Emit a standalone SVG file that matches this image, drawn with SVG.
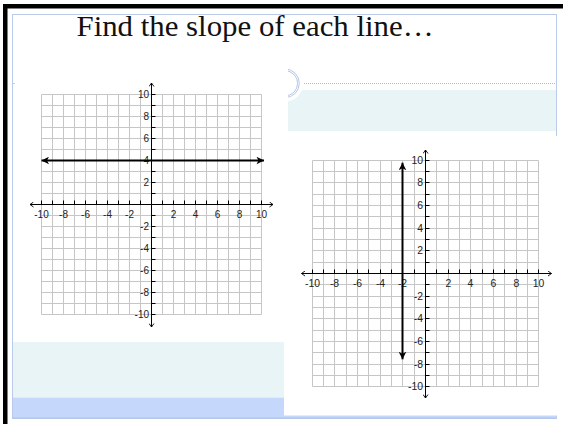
<svg xmlns="http://www.w3.org/2000/svg" width="563" height="424" viewBox="0 0 563 424">
<style>
.grid{fill:none;stroke:#c6c6c6;stroke-width:1}
.ax{fill:none;stroke:#000;stroke-width:1}
.tk{fill:none;stroke:#000;stroke-width:1}
.lx{font-family:"Liberation Sans",Arial,sans-serif;font-size:10px;fill:#222;text-anchor:middle}
.ly{font-family:"Liberation Sans",Arial,sans-serif;font-size:10px;fill:#222;text-anchor:end}
.big .lx,.big .ly{font-size:10.4px}
.bold{fill:none;stroke:#000;stroke-width:2}
.img{fill:#fff}
</style>
<defs>
<marker id="aa" viewBox="-5 -3 6 6" refX="0" refY="0" markerWidth="6" markerHeight="6" markerUnits="userSpaceOnUse" orient="auto-start-reverse">
<path d="M-3.5,-2.5 L0,0 L-3.5,2.5" fill="none" stroke="#000" stroke-width="0.9"/>
</marker>
<marker id="ah" viewBox="-8 -4 9 8" refX="0" refY="0" markerWidth="9" markerHeight="8" markerUnits="userSpaceOnUse" orient="auto-start-reverse">
<path d="M0,0 L-7.5,-3.8 L-5.5,0 L-7.5,3.8 Z" fill="#000"/>
</marker>
</defs>
<rect x="0" y="0" width="563" height="424" fill="#fff"/>
<g id="frame">
<rect x="3" y="4" width="560" height="4.5" fill="#000"/>
<rect x="3" y="4" width="4.5" height="420" fill="#000"/>
<rect x="12.5" y="14.5" width="544" height="404" fill="none" stroke="#b9cbe9" stroke-width="1"/>
<path d="M12.5,83.5H16" stroke="#c0d0ec" stroke-width="1"/>
</g>
<g id="title">
<text x="255" y="36" font-family="'Liberation Serif','DejaVu Serif',serif" font-size="30" fill="#111" text-anchor="middle" textLength="357" lengthAdjust="spacingAndGlyphs">Find the slope of each line…</text>
</g>
<g id="header-band">
<rect x="288" y="90" width="268" height="41" fill="#e8f4f6"/>
<circle cx="285" cy="83.3" r="18.3" fill="#fff"/>
<circle cx="285" cy="83.3" r="14.3" fill="none" stroke="#b4c6ea" stroke-width="1"/>
<circle cx="285" cy="83.3" r="12.6" fill="none" stroke="#b4c6ea" stroke-width="1"/>
<path d="M304,83.5H556" stroke="#a9bde2" stroke-width="1" stroke-dasharray="1 1"/>
</g>
<g id="footer-band">
<rect x="13" y="342" width="271" height="56" fill="#e8f4f6"/>
<rect x="13" y="397.7" width="543.5" height="20" fill="#c5d8fc"/>
<path d="M12.5,418H556.5" stroke="#b3c7ec" stroke-width="1.5"/>
</g>
<rect class="img" x="15" y="50" width="273" height="286"/>
<rect class="img" x="284" y="136" width="273" height="279.5"/>
<g id="graph-left">
<path class="grid" d="M41.5,94.5V314.5M52.5,94.5V314.5M63.5,94.5V314.5M74.5,94.5V314.5M85.5,94.5V314.5M96.5,94.5V314.5M107.5,94.5V314.5M118.5,94.5V314.5M129.5,94.5V314.5M140.5,94.5V314.5M151.5,94.5V314.5M162.5,94.5V314.5M173.5,94.5V314.5M184.5,94.5V314.5M195.5,94.5V314.5M206.5,94.5V314.5M217.5,94.5V314.5M228.5,94.5V314.5M239.5,94.5V314.5M250.5,94.5V314.5M261.5,94.5V314.5M41.5,94.5H261.5M41.5,105.5H261.5M41.5,116.5H261.5M41.5,127.5H261.5M41.5,138.5H261.5M41.5,149.5H261.5M41.5,160.5H261.5M41.5,171.5H261.5M41.5,182.5H261.5M41.5,193.5H261.5M41.5,204.5H261.5M41.5,215.5H261.5M41.5,226.5H261.5M41.5,237.5H261.5M41.5,248.5H261.5M41.5,259.5H261.5M41.5,270.5H261.5M41.5,281.5H261.5M41.5,292.5H261.5M41.5,303.5H261.5M41.5,314.5H261.5"/>
<path class="ax" d="M30,204.5H273" marker-start="url(#aa)" marker-end="url(#aa)"/>
<path class="ax" d="M151.5,327V83" marker-start="url(#aa)" marker-end="url(#aa)"/>
<path class="tk" d="M41.5,204.5V200.5M52.5,204.5V200.5M63.5,204.5V200.5M74.5,204.5V200.5M85.5,204.5V200.5M96.5,204.5V200.5M107.5,204.5V200.5M118.5,204.5V200.5M129.5,204.5V200.5M140.5,204.5V200.5M162.5,204.5V200.5M173.5,204.5V200.5M184.5,204.5V200.5M195.5,204.5V200.5M206.5,204.5V200.5M217.5,204.5V200.5M228.5,204.5V200.5M239.5,204.5V200.5M250.5,204.5V200.5M261.5,204.5V200.5M151.5,94.5H155.5M151.5,105.5H155.5M151.5,116.5H155.5M151.5,127.5H155.5M151.5,138.5H155.5M151.5,149.5H155.5M151.5,160.5H155.5M151.5,171.5H155.5M151.5,182.5H155.5M151.5,193.5H155.5M151.5,215.5H155.5M151.5,226.5H155.5M151.5,237.5H155.5M151.5,248.5H155.5M151.5,259.5H155.5M151.5,270.5H155.5M151.5,281.5H155.5M151.5,292.5H155.5M151.5,303.5H155.5M151.5,314.5H155.5"/>
<text class="lx" x="41.5" y="217.5">-10</text>
<text class="lx" x="63.5" y="217.5">-8</text>
<text class="lx" x="85.5" y="217.5">-6</text>
<text class="lx" x="107.5" y="217.5">-4</text>
<text class="lx" x="129.5" y="217.5">-2</text>
<text class="lx" x="173.5" y="217.5">2</text>
<text class="lx" x="195.5" y="217.5">4</text>
<text class="lx" x="217.5" y="217.5">6</text>
<text class="lx" x="239.5" y="217.5">8</text>
<text class="lx" x="261.5" y="217.5">10</text>
<text class="ly" x="149" y="98.2">10</text>
<text class="ly" x="149" y="120.2">8</text>
<text class="ly" x="149" y="142.2">6</text>
<text class="ly" x="149" y="164.2">4</text>
<text class="ly" x="149" y="186.2">2</text>
<text class="ly" x="149" y="230.2">-2</text>
<text class="ly" x="149" y="252.2">-4</text>
<text class="ly" x="149" y="274.2">-6</text>
<text class="ly" x="149" y="296.2">-8</text>
<text class="ly" x="149" y="318.2">-10</text>
</g>
<g id="graph-right" class="big">
<path class="grid" d="M312.5,160.5V386.5M323.5,160.5V386.5M334.5,160.5V386.5M346.5,160.5V386.5M357.5,160.5V386.5M368.5,160.5V386.5M380.5,160.5V386.5M391.5,160.5V386.5M402.5,160.5V386.5M414.5,160.5V386.5M425.5,160.5V386.5M436.5,160.5V386.5M448.5,160.5V386.5M459.5,160.5V386.5M470.5,160.5V386.5M482.5,160.5V386.5M493.5,160.5V386.5M504.5,160.5V386.5M516.5,160.5V386.5M527.5,160.5V386.5M538.5,160.5V386.5M312.5,160.5H538.5M312.5,171.5H538.5M312.5,182.5H538.5M312.5,194.5H538.5M312.5,205.5H538.5M312.5,216.5H538.5M312.5,228.5H538.5M312.5,239.5H538.5M312.5,250.5H538.5M312.5,262.5H538.5M312.5,273.5H538.5M312.5,284.5H538.5M312.5,296.5H538.5M312.5,307.5H538.5M312.5,318.5H538.5M312.5,330.5H538.5M312.5,341.5H538.5M312.5,352.5H538.5M312.5,364.5H538.5M312.5,375.5H538.5M312.5,386.5H538.5"/>
<path class="ax" d="M301.5,273.5H551.5" marker-start="url(#aa)" marker-end="url(#aa)"/>
<path class="ax" d="M425.5,398V150" marker-start="url(#aa)" marker-end="url(#aa)"/>
<path class="tk" d="M312.5,273.5V269.5M323.5,273.5V269.5M334.5,273.5V269.5M346.5,273.5V269.5M357.5,273.5V269.5M368.5,273.5V269.5M380.5,273.5V269.5M391.5,273.5V269.5M402.5,273.5V269.5M414.5,273.5V269.5M436.5,273.5V269.5M448.5,273.5V269.5M459.5,273.5V269.5M470.5,273.5V269.5M482.5,273.5V269.5M493.5,273.5V269.5M504.5,273.5V269.5M516.5,273.5V269.5M527.5,273.5V269.5M538.5,273.5V269.5M425.5,160.5H429.5M425.5,171.5H429.5M425.5,182.5H429.5M425.5,194.5H429.5M425.5,205.5H429.5M425.5,216.5H429.5M425.5,228.5H429.5M425.5,239.5H429.5M425.5,250.5H429.5M425.5,262.5H429.5M425.5,284.5H429.5M425.5,296.5H429.5M425.5,307.5H429.5M425.5,318.5H429.5M425.5,330.5H429.5M425.5,341.5H429.5M425.5,352.5H429.5M425.5,364.5H429.5M425.5,375.5H429.5M425.5,386.5H429.5"/>
<text class="lx" x="312.5" y="286.5">-10</text>
<text class="lx" x="334.5" y="286.5">-8</text>
<text class="lx" x="357.5" y="286.5">-6</text>
<text class="lx" x="380.5" y="286.5">-4</text>
<text class="lx" x="402.5" y="286.5">-2</text>
<text class="lx" x="448.5" y="286.5">2</text>
<text class="lx" x="470.5" y="286.5">4</text>
<text class="lx" x="493.5" y="286.5">6</text>
<text class="lx" x="516.5" y="286.5">8</text>
<text class="lx" x="538.5" y="286.5">10</text>
<text class="ly" x="423" y="164.4">10</text>
<text class="ly" x="423" y="186.4">8</text>
<text class="ly" x="423" y="209.4">6</text>
<text class="ly" x="423" y="232.4">4</text>
<text class="ly" x="423" y="254.4">2</text>
<text class="ly" x="423" y="300.4">-2</text>
<text class="ly" x="423" y="322.4">-4</text>
<text class="ly" x="423" y="345.4">-6</text>
<text class="ly" x="423" y="368.4">-8</text>
<text class="ly" x="423" y="390.4">-10</text>
</g>
<g id="connectors">
<path class="bold" d="M41.5,160.5H264" marker-start="url(#ah)" marker-end="url(#ah)"/>
<path class="bold" d="M402.5,162.7V359.3" marker-start="url(#ah)" marker-end="url(#ah)"/>
</g>
</svg>
